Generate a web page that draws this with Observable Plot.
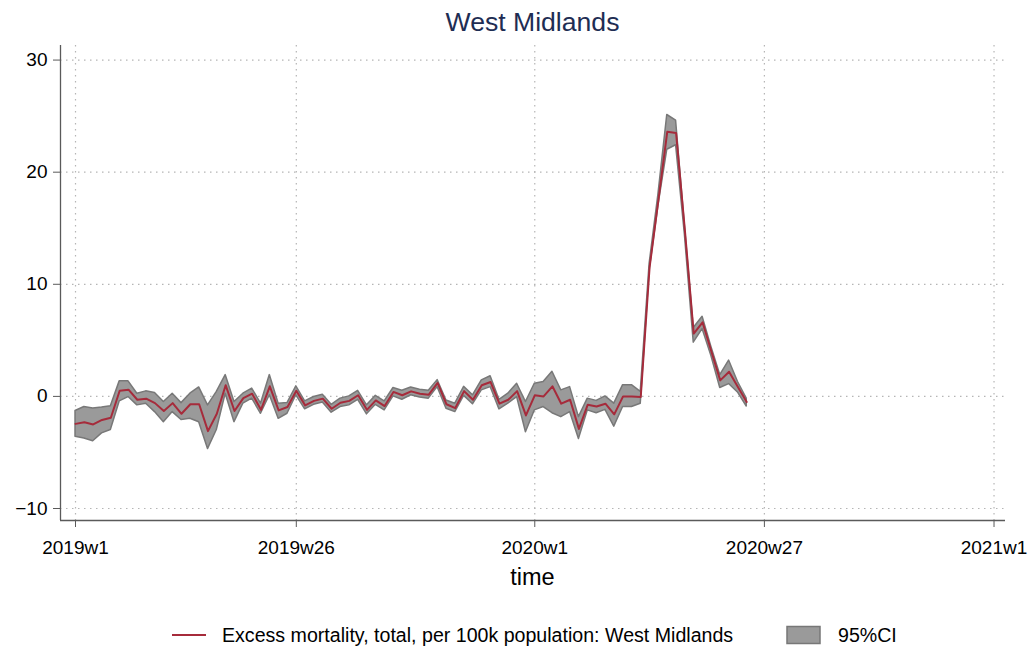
<!DOCTYPE html>
<html>
<head>
<meta charset="utf-8">
<script src="https://cdn.jsdelivr.net/npm/d3@7"></script>
<script src="https://cdn.jsdelivr.net/npm/@observablehq/plot@0.6"></script>
<style>
  body { margin: 0; background: #fff; font-family: "Liberation Sans", Arial, sans-serif; }
  #wrap { position: relative; width: 1036px; height: 650px; overflow: hidden; }
  #chart { position: absolute; left: 0; top: 0; }
  .abs { position: absolute; white-space: nowrap; }
  #title { left: 60px; width: 945px; top: 8px; text-align: center; font-size: 26.6px; line-height: 28px; color: #1e2d53; }
  #xlabel { left: 60px; width: 945px; top: 563px; text-align: center; font-size: 23.5px; line-height: 28px; color: #000; }
  .legtxt { font-size: 19.6px; line-height: 22px; color: #000; top: 624px; }
</style>
</head>
<body>
<div id="wrap">
  <div id="chart"></div>
  <div id="title" class="abs">West Midlands</div>
  <div id="xlabel" class="abs">time</div>
  <svg class="abs" style="left:172px;top:625px" width="34" height="20"><line x1="0" x2="34" y1="10" y2="10" stroke="#a62b3b" stroke-width="2"/></svg>
  <div class="abs legtxt" style="left:222px">Excess mortality, total, per 100k population: West Midlands</div>
  <svg class="abs" style="left:786px;top:625px" width="36" height="20"><rect x="1" y="1.5" width="33" height="17" fill="#9a9a9a" stroke="#777" stroke-width="1.5"/></svg>
  <div class="abs legtxt" style="left:838px">95%CI</div>
</div>
<script>
// Excess mortality per 100k, West Midlands, weeks from 2019w1 (index 0) to 2020w25 (index 76)
const excess = [
  -2.45, -2.3, -2.5, -2.1, -1.9, 0.5, 0.6, -0.3, -0.2, -0.6,
  -1.3, -0.6, -1.55, -0.7, -0.7, -3.1, -1.55, 1.0, -1.3, -0.15,
  0.24, -1.2, 0.9, -1.25, -0.95, 0.5, -0.8, -0.4, -0.2, -1.1,
  -0.57, -0.4, 0.1, -1.2, -0.36, -0.86, 0.4, 0.1, 0.45, 0.24,
  0.15, 1.2, -0.7, -1.04, 0.47, -0.3, 1.0, 1.28, -0.65, -0.3,
  0.47, -1.7, 0.1, 0.0, 0.9, -0.65, -0.3, -2.9, -0.74, -0.9,
  -0.65, -1.6, 0.0, 0.0, -0.05, 11.5, 17.5, 23.6, 23.5, 14.8,
  5.6, 6.6, 4.0, 1.43, 2.2, 0.83, -0.5
];
const ciLow = [
  -3.6, -3.75, -4.0, -3.3, -3.0, -0.45, -0.06, -0.8, -0.65, -1.4,
  -2.3, -1.4, -2.1, -2.0, -2.3, -4.7, -3.0, 0.24, -2.3, -0.65,
  -0.2, -1.55, 0.1, -2.0, -1.55, 0.1, -1.15, -0.75, -0.55, -1.45,
  -0.95, -0.8, -0.3, -1.6, -0.75, -1.25, 0.0, -0.3, 0.1, -0.1,
  -0.2, 0.83, -1.1, -1.4, 0.05, -0.7, 0.54, 0.83, -1.16, -0.65,
  -0.06, -3.2, -1.25, -0.95, -1.5, -1.85, -1.4, -3.8, -1.25, -1.5,
  -1.2, -2.7, -0.95, -0.95, -0.65, 11.2, 17.0, 22.0, 22.4, 14.4,
  4.8, 6.0, 3.6, 0.75, 1.1, 0.35, -0.9
];
const ciHigh = [
  -1.3, -0.95, -1.07, -1.0, -0.87, 1.34, 1.34, 0.24, 0.45, 0.3,
  -0.5, 0.24, -0.6, 0.24, 0.8, -0.8, 0.4, 1.9, -0.5, 0.24,
  0.7, -0.65, 1.9, -0.65, -0.6, 0.9, -0.45, -0.05, 0.15, -0.75,
  -0.2, 0.0, 0.5, -0.8, 0.05, -0.45, 0.75, 0.5, 0.8, 0.6,
  0.5, 1.45, -0.36, -0.65, 0.85, 0.1, 1.43, 1.8, -0.3, 0.24,
  1.13, -0.5, 1.13, 1.28, 2.2, 0.54, 0.83, -1.85, -0.2, -0.4,
  0.0, -0.65, 1.0, 1.0, 0.4, 11.8, 18.0, 25.1, 24.6, 15.2,
  6.1, 7.1, 4.4, 1.9, 3.2, 1.3, -0.2
];
const xTickWeeks = [0, 25, 52, 78, 104];
const xTickLabels = ["2019w1", "2019w26", "2020w1", "2020w27", "2021w1"];
const yTicks = [-10, 0, 10, 20, 30];

const data = excess.map((v, i) => ({ w: i, v, lo: ciLow[i], hi: ciHigh[i] }));
const labelFor = new Map(xTickWeeks.map((w, k) => [w, xTickLabels[k]]));
const xDomain = [-1.7, 105.3];
const yDomain = [-11.07, 31.3];

const chart = Plot.plot({
  width: 1036,
  height: 605,
  marginTop: 45,
  marginBottom: 85,
  marginLeft: 60,
  marginRight: 31,
  style: { fontFamily: "Liberation Sans, Arial, sans-serif", background: "white" },
  x: { domain: xDomain, axis: null },
  y: { domain: yDomain, axis: null },
  marks: [
    Plot.gridY(yTicks, { stroke: "#b5b5b5", strokeOpacity: 1, strokeDasharray: "1.5,4.5", strokeWidth: 1.2 }),
    Plot.gridX(xTickWeeks, { stroke: "#b5b5b5", strokeOpacity: 1, strokeDasharray: "1.5,4.5", strokeWidth: 1.2 }),
    Plot.areaY(data, { x: "w", y1: "lo", y2: "hi", fill: "#9a9a9a", stroke: "#787878", strokeWidth: 1.5 }),
    Plot.lineY(data, { x: "w", y: "v", stroke: "#a62b3b", strokeWidth: 2 }),
    Plot.ruleX([xDomain[0]], { stroke: "#5a5a5a", strokeWidth: 1.3 }),
    Plot.ruleY([yDomain[0]], { stroke: "#5a5a5a", strokeWidth: 1.3 }),
    Plot.axisX(xTickWeeks, {
      tickSize: 7, tickPadding: 13, fontSize: 19, stroke: "#5a5a5a", fill: "#000",
      tickFormat: (d) => labelFor.get(d), label: null
    }),
    Plot.axisY(yTicks, {
      tickSize: 7, tickPadding: 6, fontSize: 19, stroke: "#5a5a5a", fill: "#000",
      tickFormat: (d) => (d < 0 ? "\u2212" + Math.abs(d) : String(d)), label: null
    })
  ]
});
document.getElementById("chart").appendChild(chart);
</script>
</body>
</html>
